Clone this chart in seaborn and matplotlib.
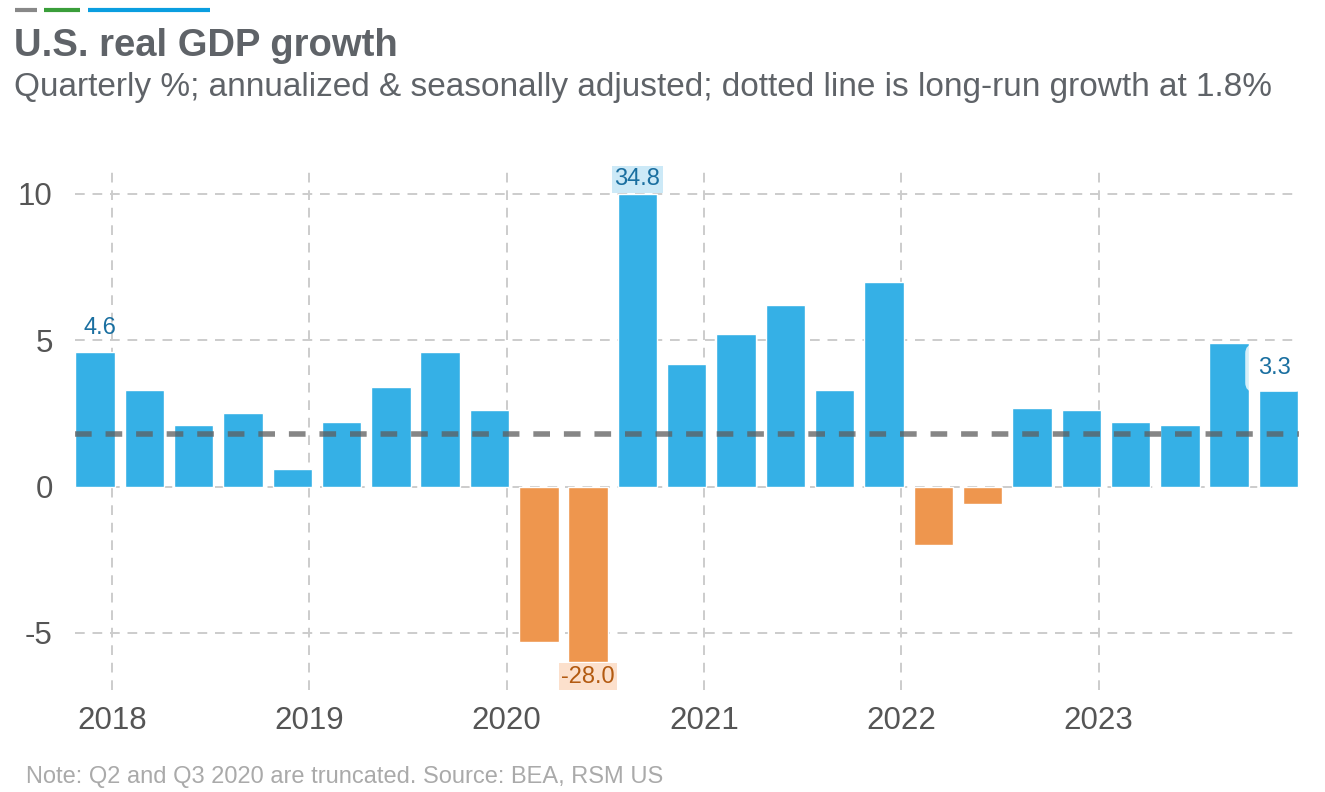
import matplotlib
matplotlib.use("Agg")
import matplotlib.pyplot as plt
import seaborn as sns
import pandas as pd
import numpy as np

# ---- data ----
quarters = ["2017Q4",
            "2018Q1", "2018Q2", "2018Q3", "2018Q4",
            "2019Q1", "2019Q2", "2019Q3", "2019Q4",
            "2020Q1", "2020Q2", "2020Q3", "2020Q4",
            "2021Q1", "2021Q2", "2021Q3", "2021Q4",
            "2022Q1", "2022Q2", "2022Q3", "2022Q4",
            "2023Q1", "2023Q2", "2023Q3", "2023Q4"]
growth = [4.6,
          3.3, 2.1, 2.5, 0.6,
          2.2, 3.4, 4.6, 2.6,
          -5.3, -28.0, 34.8, 4.2,
          5.2, 6.2, 3.3, 7.0,
          -2.0, -0.6, 2.7, 2.6,
          2.2, 2.1, 4.9, 3.3]
year_labels = ["2018", "2019", "2020", "2021", "2022", "2023"]
y_ticks = [-5, 0, 5, 10]
long_run = 1.8
cap_low, cap_high = -6.0, 10.0

df = pd.DataFrame({"quarter": quarters, "growth": growth})
df["shown"] = df["growth"].clip(cap_low, cap_high)
df["sign"] = np.where(df["growth"] >= 0, "pos", "neg")

BLUE = "#35b0e6"
ORANGE = "#ee964e"
GRID = "#cccccc"
TXT = "#5f6368"

sns.set_theme(style="white")
plt.rcParams["font.family"] = ["Liberation Sans", "DejaVu Sans"]

fig = plt.figure(figsize=(13.25, 7.92), dpi=100)
ax = fig.add_axes([0.0566, 0.129, 0.9234, 0.663])

sns.barplot(data=df, x="quarter", y="shown", hue="sign",
            palette={"pos": BLUE, "neg": ORANGE}, dodge=False,
            width=0.8, legend=False, ax=ax, zorder=2, saturation=1)

ax.set_xlim(-0.405, len(quarters) - 1 + 0.405)
ax.set_ylim(-6.95, 11.0)

xt = [quarters.index(y + "Q1") - 0.65 for y in year_labels]
ax.set_xticks(xt)
ax.set_xticklabels(year_labels)
ax.set_yticks(y_ticks)
ax.set_yticklabels([str(v) for v in y_ticks])
ax.tick_params(axis="both", length=0, labelsize=22.5, colors="#555555")
ax.tick_params(axis="y", pad=16)
ax.tick_params(axis="x", pad=12)
ax.set_xlabel("")
ax.set_ylabel("")
for s in ax.spines.values():
    s.set_visible(False)

ax.grid(True, axis="both", color=GRID, linestyle=(0, (5, 4)), linewidth=1.4, zorder=0)
ax.set_axisbelow(True)

ax.axhline(long_run, color="#5e5e5e", linewidth=4, linestyle=(0, (3, 2.5)),
           alpha=0.75, zorder=3)

# ---- value labels ----
i0 = 0
ax.text(i0 + 0.1, df["shown"][i0] + 0.45, f"{growth[i0]:.1f}", ha="center", va="bottom",
        fontsize=17, color="#1a6fa0", zorder=4)
i_hi = int(np.argmax(growth))
ax.text(i_hi, cap_high + 0.5, f"{growth[i_hi]:.1f}", ha="center", va="center",
        fontsize=17, color="#1a6fa0", zorder=4,
        bbox=dict(boxstyle="square,pad=0.1", fc="#cce9f7", ec="none"))
i_lo = int(np.argmin(growth))
ax.text(i_lo, cap_low - 0.5, f"{growth[i_lo]:.1f}", ha="center", va="center",
        fontsize=17, color="#b35a10", zorder=4,
        bbox=dict(boxstyle="square,pad=0.1", fc="#fce0cc", ec="none"))
i_last = len(growth) - 1
ax.text(i_last - 0.08, growth[i_last] + 0.75, f"{growth[i_last]:.1f}", ha="center", va="center",
        fontsize=17, color="#1a6fa0", zorder=4,
        bbox=dict(boxstyle="round,pad=0.55,rounding_size=0.4", fc="white", ec="none", alpha=0.8))

# ---- titles ----
fig.text(0.0106, 0.942, "U.S. real GDP growth", fontsize=27.5, fontweight="bold",
         color=TXT, ha="left", va="center")
fig.text(0.0106, 0.889, "Quarterly %; annualized & seasonally adjusted; dotted line is long-run growth at 1.8%",
         fontsize=24, color=TXT, ha="left", va="center")
fig.text(0.02, 0.019, "Note: Q2 and Q3 2020 are truncated. Source: BEA, RSM US",
         fontsize=17, color="#aaaaaa", ha="left", va="center")

# decorative lines at top
for x0, x1, c in [(15, 37, "#888888"), (44, 80, "#3a9e3a"), (88, 210, "#0a9ee0")]:
    fig.add_artist(plt.Line2D([x0 / 1325, x1 / 1325], [1 - 10 / 792] * 2,
                              color=c, linewidth=3, solid_capstyle="butt"))

fig.savefig("out.png", dpi=100)
